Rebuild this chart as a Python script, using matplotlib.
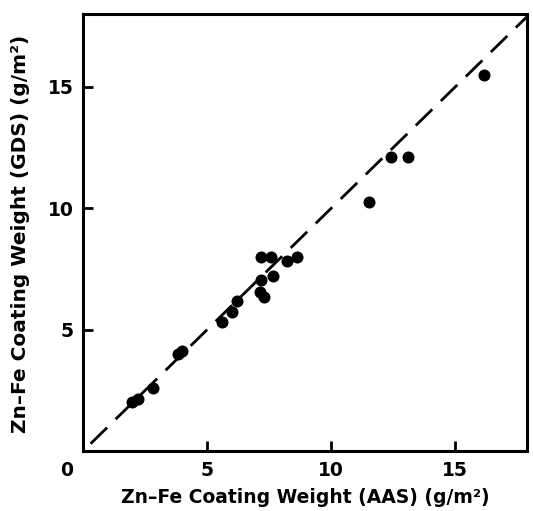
import matplotlib
matplotlib.use("Agg")
import matplotlib.pyplot as plt
import matplotlib.transforms as mtransforms

# Data
aas = [1.96, 2.22, 2.80, 3.83, 4.00, 5.60, 6.01, 6.22, 7.14, 7.30, 7.18, 7.19, 7.59,
       7.65, 8.23, 8.62, 11.53, 12.43, 13.08, 16.18]
gds = [2.02, 2.16, 2.60, 4.00, 4.12, 5.30, 5.74, 6.18, 6.54, 6.36, 7.05, 8.00, 8.00,
       7.23, 7.82, 7.98, 10.25, 12.12, 12.12, 15.50]
line_x = [0.3, 17.9]
ticks = [5, 10, 15]
tick_labels = ["5", "10", "15"]

plt.rcParams['font.family'] = ['DejaVu Sans']
plt.rcParams['font.weight'] = 'bold'
FS = 13.5

fig = plt.figure(figsize=(5.33, 5.11), dpi=100)
ax = fig.add_axes([0.156, 0.1174, 0.833, 0.855])

ax.plot(line_x, line_x, color='black', lw=2.0, dashes=(8.3, 4.3))
ax.scatter(aas, gds, s=75, color='black', zorder=3, linewidths=0)

ax.set_xlim(0, 17.9)
ax.set_ylim(0, 18)
ax.set_xticks(ticks)
ax.set_xticklabels(tick_labels)
ax.set_yticks(ticks)
ax.set_yticklabels(tick_labels)
ax.tick_params(direction='in', length=7, width=2, labelsize=FS, pad=7)
for lab in ax.get_xticklabels() + ax.get_yticklabels():
    lab.set_fontweight('bold')
for sp in ax.spines.values():
    sp.set_linewidth(2.2)

trans = mtransforms.blended_transform_factory(ax.transData, ax.transAxes)
ax.text(-0.65, 0.0, "0", ha='center', va='top', fontsize=FS, fontweight='bold',
        transform=trans + mtransforms.ScaledTranslation(0, -7/72, fig.dpi_scale_trans))

ax.set_xlabel("Zn\u2013Fe Coating Weight (AAS) (g/m\u00b2)", fontsize=FS, fontweight='bold', labelpad=6)
ax.set_ylabel("Zn\u2013Fe Coating Weight (GDS) (g/m\u00b2)", fontsize=14.5, fontweight='bold')
ax.yaxis.set_label_coords(-0.142, 0.497)
ax.yaxis.label.set_va('center')

fig.savefig("out.png", dpi=100)
